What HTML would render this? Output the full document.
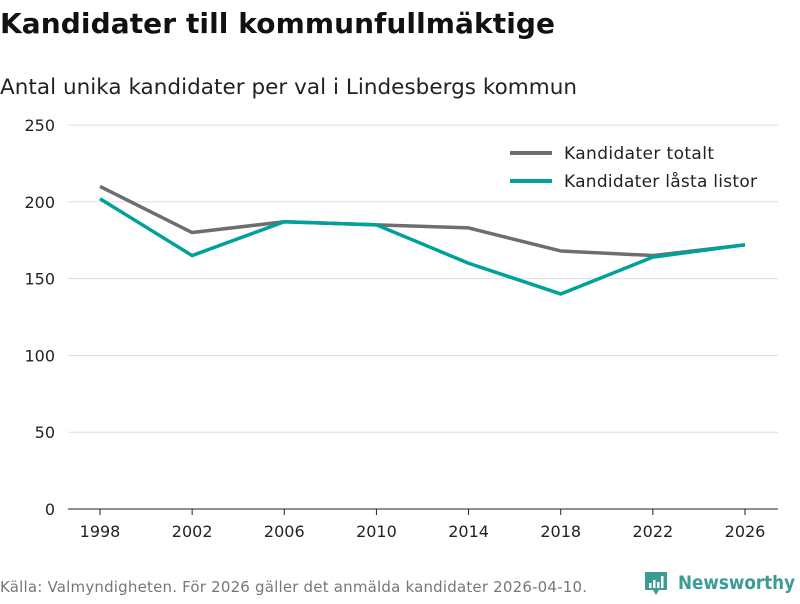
<!DOCTYPE html>
<html><head><meta charset="utf-8"><style>
body{margin:0;width:800px;height:600px;background:#fff;font-family:"DejaVu Sans","Liberation Sans",sans-serif;overflow:hidden}
svg text{font-family:"DejaVu Sans","Liberation Sans",sans-serif}
</style></head><body>
<svg id="c" width="800" height="600">
<text x="0" y="33" font-size="28" font-weight="bold" fill="#111" textLength="555">Kandidater till kommunfullmäktige</text>
<text x="0" y="94" font-size="21.5" fill="#222" textLength="577">Antal unika kandidater per val i Lindesbergs kommun</text>
<g id="grid"></g><g id="lines"></g>
<g>
<line x1="510" y1="153" x2="552" y2="153" stroke="#6e6d72" stroke-width="4"/>
<text x="564" y="159" font-size="17" fill="#222" textLength="150">Kandidater totalt</text>
<line x1="510" y1="181" x2="552" y2="181" stroke="#00a19a" stroke-width="4"/>
<text x="564" y="187" font-size="17" fill="#222" textLength="193">Kandidater låsta listor</text>
</g>
<text x="0" y="592" font-size="15" fill="#777" textLength="587">Källa: Valmyndigheten. För 2026 gäller det anmälda kandidater 2026-04-10.</text>
<g>
<path d="M645 572 h22 v18 h-8 l-3 5 l-3 -5 h-8 z" fill="#3a9c94"/>
<rect x="649" y="583" width="2.5" height="5" fill="#fff"/><rect x="653" y="580" width="2.5" height="8" fill="#fff"/><rect x="657" y="582" width="2.5" height="6" fill="#fff"/><rect x="661" y="576" width="2.5" height="12" fill="#fff"/>
<text x="678" y="589" font-size="19" font-weight="bold" fill="#3a9c94" textLength="117" lengthAdjust="spacingAndGlyphs">Newsworthy</text>
</g>
</svg>
<script>
const years=[1998,2002,2006,2010,2014,2018,2022,2026];
const totalt=[210,180,187,185,183,168,165,172];
const lasta=[202,165,187,185,160,140,164,172];
const yTicks=[0,50,100,150,200,250];
const NS="http://www.w3.org/2000/svg";
const x=v=>100+(v-1998)*(645/28);
const y=v=>509-v*(384/250);
const g=document.getElementById('grid'),L=document.getElementById('lines');
function el(t,a,p){const e=document.createElementNS(NS,t);for(const k in a)e.setAttribute(k,a[k]);p.appendChild(e);return e;}
yTicks.forEach(t=>{
 if(t>0){const l=el('line',{x1:68,x2:778,y1:y(t),y2:y(t),stroke:'#ddd','stroke-width':1},g);
 
 }
 const tx=el('text',{x:55,y:y(t)+6,'font-size':16,fill:'#222','text-anchor':'end'},g);tx.textContent=t;
 
 
});
const ax=el('line',{x1:68,x2:778,y1:509,y2:509,stroke:'#222','stroke-width':1},g);


years.forEach(yr=>{
 const tk=el('line',{x1:x(yr),x2:x(yr),y1:509,y2:515,stroke:'#222'},g);
 
 
 const tx=el('text',{x:x(yr),y:537,'font-size':16,fill:'#222','text-anchor':'middle'},g);tx.textContent=yr;
 
 
});
function line(vals,col,name){
 const p=el('polyline',{points:vals.map((v,i)=>x(years[i])+','+y(v)).join(' '),fill:'none',stroke:col,'stroke-width':3.5,'stroke-linejoin':'round'},L);
 
 
}
line(totalt,'#6e6d72','line-totalt');
line(lasta,'#00a19a','line-lasta-listor');
</script>
</body></html>
